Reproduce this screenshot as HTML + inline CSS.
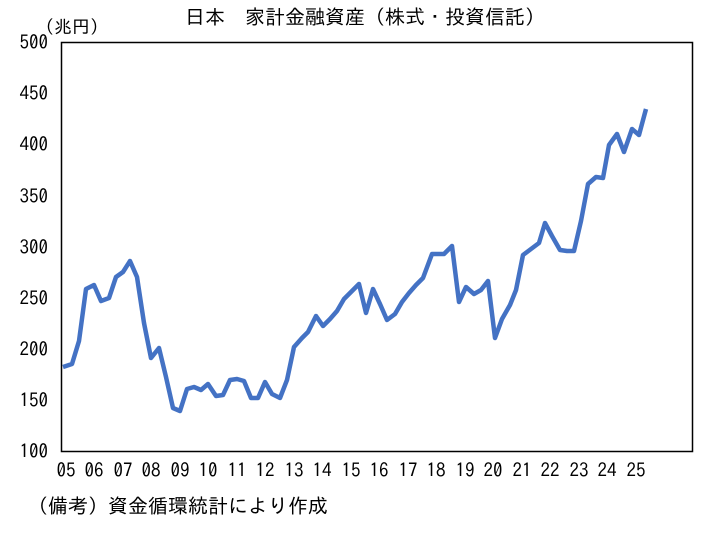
<!DOCTYPE html>
<html><head><meta charset="utf-8"><style>
body{margin:0;background:#fff;}
text{font-family:"IPAGothic","Noto Sans CJK JP",sans-serif;fill:#000;}
</style></head><body>
<svg width="704" height="554" xmlns="http://www.w3.org/2000/svg">
<rect width="704" height="554" fill="#fff"/>
<text x="365" y="24" font-size="20" text-anchor="middle">日本　家計金融資産（株式・投資信託）</text>
<text x="36" y="33" font-size="18">（兆円）</text>
<rect x="61.5" y="42.5" width="631" height="409" fill="none" stroke="#000" stroke-width="1.5"/>
<g font-size="19" text-anchor="end">
<text x="48" y="49">500</text><text x="48" y="100">450</text><text x="48" y="151">400</text>
<text x="48" y="203">350</text><text x="48" y="254">300</text><text x="48" y="305">250</text>
<text x="48" y="356">200</text><text x="48" y="407">150</text><text x="48" y="458">100</text>
</g>
<g font-size="19" text-anchor="middle">
<text x="66" y="477">05</text><text x="94" y="477">06</text><text x="123" y="477">07</text>
<text x="151" y="477">08</text><text x="180" y="477">09</text><text x="208" y="477">10</text>
<text x="237" y="477">11</text><text x="265" y="477">12</text><text x="294" y="477">13</text>
<text x="322" y="477">14</text><text x="351" y="477">15</text><text x="379" y="477">16</text>
<text x="408" y="477">17</text><text x="436" y="477">18</text><text x="465" y="477">19</text>
<text x="493" y="477">20</text><text x="522" y="477">21</text><text x="550" y="477">22</text>
<text x="579" y="477">23</text><text x="607" y="477">24</text><text x="636" y="477">25</text>
</g>
<text x="28" y="513" font-size="20">（備考）資金循環統計により作成</text>
<polyline fill="none" stroke="#4472C4" stroke-width="4.5" stroke-linejoin="round" points="63,367 72,364 79,341 86,289 94,285 101,301 109,298 116,277 123,272 130,261 137,277 144,323 151,358 159,348 166,377 173,408 180,411 187,389 194,387 201,390 208,384 216,396 223,395 230,380 237,379 244,381 251,398 258,398 265,382 272,394 280,398 287,380 294,347 302,338 308,332 316,316 323,326 330,319 337,311 344,299 351,292 359,284 366,313 373,289 380,304 387,320 395,314 402,302 409,293 416,285 423,278 432,254 444,254 452,246 459,302 466,287 474,294 481,290 488,281 495,338 502,319 510,305 516,290 523,255 531,249 539,243 545,223 552,236 560,250 567,251 574,251 581,221 588,184 596,177 603,178 609,145 617,134 624,152 632,129 639,135 646,109"/>
</svg>
</body></html>
